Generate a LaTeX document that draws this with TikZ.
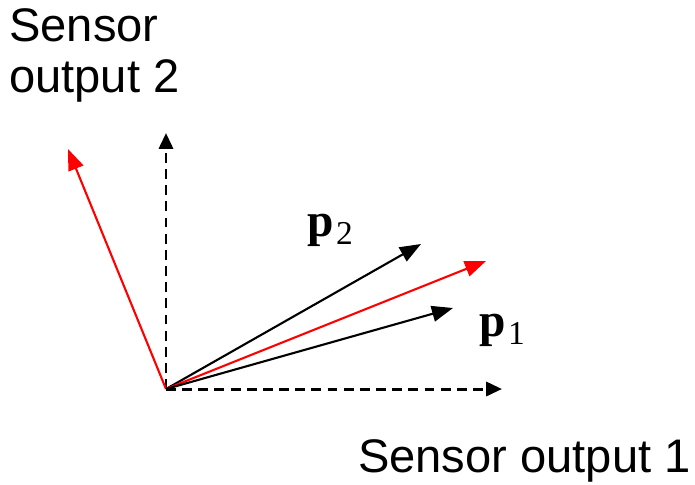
\documentclass[tikz,border=0pt]{standalone}
\usepackage{fontspec}
\setmainfont{Liberation Sans}
\newfontfamily\pfont{Liberation Serif}
\usetikzlibrary{arrows.meta}
\newcommand{\pvec}[1]{{\pfont\textbf{p}\kern1.5pt\raisebox{-4.5pt}{\fontsize{19}{19}\selectfont #1}}}

\begin{document}
\begin{tikzpicture}[>={Triangle[length=12pt,width=9pt]},x=0.02cm,y=-0.02cm,
    axis/.style={->,line width=1.7pt,dash pattern=on 5.6pt off 3.6pt,>={Triangle[length=9pt,width=8pt]}},
    vec/.style={->,line width=1.2pt}]
  \useasboundingbox (0,0) rectangle (695,484);
  % origin and arrow tips
  \coordinate (O) at (166,389);
  \coordinate (xend) at (502,389);
  \coordinate (yend) at (166,133);
  \coordinate (r1) at (68,149);
  \coordinate (r2) at (486,261);
  \coordinate (p1) at (453,308);
  \coordinate (p2) at (421,244);
  % sensor axes
  \draw[axis] (O)--(xend);
  \draw[axis] (O)--(yend);
  % vectors
  \draw[vec,red] (O)--(r1);
  \draw[vec] (O)--(p2);
  \draw[vec,red] (O)--(r2);
  \draw[vec] (O)--(p1);
  % labels
  \node[anchor=west,font=\fontsize{26.8}{30}\selectfont] (lx) at (352,461) {Sensor output 1};
  \node[anchor=north west,align=left,font=\fontsize{26.8}{29}\selectfont,inner sep=0pt] (ly) at (9,8) {Sensor\\output 2};
  \node[font=\fontsize{27}{30}\selectfont] (lp2) at (330,230) {\pvec{2}};
  \node[font=\fontsize{27}{30}\selectfont] (lp1) at (502,330) {\pvec{1}};
\end{tikzpicture}
\end{document}
